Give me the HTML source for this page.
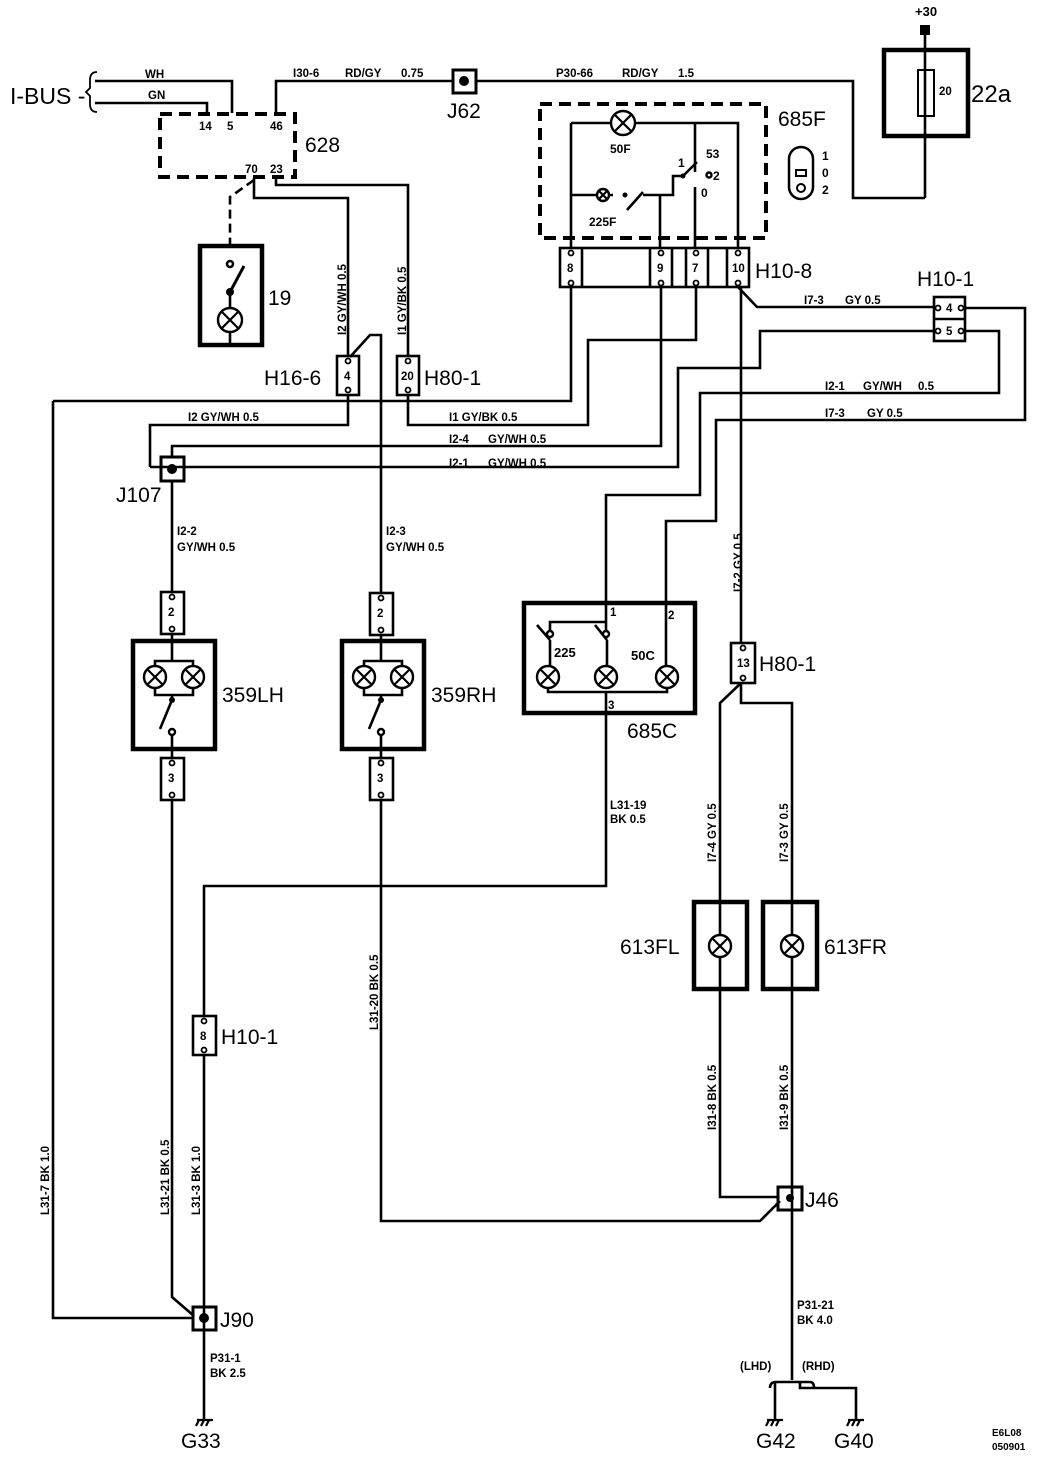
<!DOCTYPE html>
<html><head><meta charset="utf-8"><style>
html,body{margin:0;padding:0;background:#fff}
svg{display:block}
text{font-family:"Liberation Sans",sans-serif;fill:#000}
.s{font-size:11.5px;font-weight:bold}
.b{font-size:21px}
</style></head><body>
<svg width="1056" height="1460" viewBox="0 0 1056 1460" xmlns="http://www.w3.org/2000/svg">
<g fill="none" stroke="#000" stroke-width="2.6">
<!-- I-BUS -->
<path d="M95,81 H232 V113 M95,103 H207 V113"/>
<path d="M97,72 Q90,72 90,80 V88 L86,92 L90,96 V104 Q90,112 97,112" stroke-width="1.8"/>
<path d="M276,113 V81 H453 M476,81 H853 V198 H925"/>
<rect x="453" y="70" width="23" height="23" stroke-width="3"/>
<!-- 628 -->
<rect x="160" y="114" width="135" height="63" stroke-width="4" stroke-dasharray="12,7"/>
<path d="M254,178 V198 H348 V357 M276,178 V185 H408 V357"/>
<path d="M254,180 L230,197 V246" stroke-dasharray="9,5"/>
<!-- 19 -->
<rect x="200" y="246" width="62" height="99" stroke-width="4.5"/>
<circle cx="230" cy="264" r="3"/>
<path d="M230,292 L244,266" stroke-width="3"/>
<path d="M230,292 V308 M230,332 V345"/>
<!-- H16-6 / H80-1 -->
<path d="M350,357 L370,335 H381 V592"/>
<rect x="337" y="356" width="22" height="39"/>
<rect x="397" y="356" width="22" height="39"/>
<path d="M348,395 V425 H150 V467 M408,395 V425 H588 V340 H696 V287"/>
<path d="M53,401 H571 V287 M53,401 V1318 H193"/>
<path d="M172,457 V446 H661 V287"/>
<path d="M150,467 H678 V368 H760 V331 H934"/>
<!-- J107 -->
<rect x="161" y="457" width="23" height="24" stroke-width="3"/>
<path d="M172,481 V592"/>
<!-- 685F -->
<rect x="540" y="104" width="226" height="134" stroke-width="4" stroke-dasharray="12,7"/>
<path d="M571,123 H611 M635,123 H738 V248 M571,123 V248 M695,123 V172"/>
<path d="M571,195 H597 M609,195 H613 M627,210 L643,192 M643,195 H673 V176 H683 L697,162 M660,195 V248 M695,187 V248"/>
<!-- knob -->
<rect x="789" y="147" width="24" height="52" rx="12" stroke-width="2.5"/>
<rect x="796" y="170" width="10" height="6" stroke-width="2"/>
<circle cx="801" cy="188" r="4" stroke-width="2"/>
<!-- H10-8 -->
<rect x="560" y="248" width="189" height="39" stroke-width="2.6"/>
<path d="M582,248 V287 M650,248 V287 M672,248 V287 M686,248 V287 M708,248 V287 M727,248 V287"/>
<path d="M738,287 L757,307 H934"/>
<path d="M741,287 V643"/>
<!-- 22a -->
<rect x="884" y="50" width="84" height="86" stroke-width="4.5"/>
<rect x="918" y="70" width="16" height="46" stroke-width="2"/>
<path d="M925,35 V198"/>
<!-- H10-1 top -->
<rect x="934" y="297" width="31" height="44" stroke-width="2.6"/>
<path d="M934,319 H965"/>
<path d="M965,308 H1025 V420 H716 V521 H666 V602"/>
<path d="M965,331 H999 V393 H700 V495 H606 V602"/>
<!-- 685C -->
<rect x="524" y="603" width="171" height="110" stroke-width="4.5"/>
<path d="M606,602 V622 H550 V632 M606,622 V632 M666,602 V666"/>
<path d="M537,625 L550,640 M595,625 L607,640 M550,640 V666 M607,640 V666"/>
<path d="M548,688 V692 H667 V688 M606,692 V713 M606,713 V886 H204 V1016"/>
<!-- 359LH -->
<rect x="161" y="592" width="23" height="42"/>
<rect x="133" y="641" width="82" height="108" stroke-width="4.5"/>
<path d="M172,634 V661 M155,666 V661 H193 V666 M155,688 V695 H193 V688 M172,695 V700 M172,700 L160,729 M172,736 V758"/>
<rect x="161" y="758" width="23" height="42"/>
<path d="M172,800 V1297 L194,1316"/>
<!-- 359RH -->
<rect x="370" y="593" width="23" height="42"/>
<rect x="342" y="641" width="82" height="108" stroke-width="4.5"/>
<path d="M381,635 V661 M364,666 V661 H402 V666 M364,688 V695 H402 V688 M381,695 V700 M381,700 L369,729 M381,736 V758"/>
<rect x="370" y="758" width="23" height="42"/>
<path d="M381,800 V1221 H760 L780,1201"/>
<!-- H10-1 lower -->
<rect x="193" y="1016" width="23" height="39" stroke-width="2.6"/>
<path d="M204,1055 V1420"/>
<rect x="193" y="1307" width="23" height="23" stroke-width="3"/>
<!-- H80-1 13 -->
<rect x="731" y="643" width="24" height="40" stroke-width="2.6"/>
<path d="M741,683 L720,703 V1197 H778 M741,683 V703 H792 V1380"/>
<rect x="694" y="902" width="53" height="87" stroke-width="4.5"/>
<rect x="763" y="902" width="54" height="87" stroke-width="4.5"/>
<rect x="778" y="1187" width="24" height="23" stroke-width="3"/>
<path d="M770,1388 Q770,1382 776,1382 H810 Q814,1382 814,1388 M775,1382 V1420 M800,1382 V1388 H856 V1420"/>
</g>
<!-- lamps -->
<g fill="#fff" stroke="#000" stroke-width="2.4">
<circle cx="623" cy="123" r="12"/><circle cx="603" cy="195" r="6"/>
<circle cx="230" cy="320" r="12"/>
<circle cx="155" cy="677" r="11"/><circle cx="193" cy="677" r="11"/>
<circle cx="364" cy="677" r="11"/><circle cx="402" cy="677" r="11"/>
<circle cx="548" cy="677" r="11"/><circle cx="606" cy="677" r="11"/><circle cx="667" cy="677" r="11"/>
<circle cx="720" cy="946" r="11"/><circle cx="792" cy="946" r="11"/>
<circle cx="550" cy="634" r="3"/><circle cx="606" cy="634" r="3"/>
<circle cx="172" cy="732" r="3"/><circle cx="381" cy="732" r="3"/>
<circle cx="709" cy="175" r="2.5"/>
</g>
<g stroke="#000" stroke-width="2.2" fill="none">
<path d="M615,115 L631,131 M631,115 L615,131 M599,191 L607,199 M607,191 L599,199 M222,312 L238,328 M238,312 L222,328
M148,670 L162,684 M162,670 L148,684 M186,670 L200,684 M200,670 L186,684 M357,670 L371,684 M371,670 L357,684 M395,670 L409,684 M409,670 L395,684
M541,670 L555,684 M555,670 L541,684 M599,670 L613,684 M613,670 L599,684 M660,670 L674,684 M674,670 L660,684
M713,939 L727,953 M727,939 L713,953 M785,939 L799,953 M799,939 L785,953"/>
<!-- grounds -->
<path d="M197,1420 H213 M199,1420 L196,1426 M204,1420 L201,1426 M209,1420 L206,1426
M767,1420 H783 M769,1420 L766,1426 M774,1420 L771,1426 M779,1420 L776,1426
M848,1420 H864 M850,1420 L847,1426 M855,1420 L852,1426 M860,1420 L857,1426"/>
</g>
<!-- dots -->
<g fill="#000">
<circle cx="464" cy="81" r="5"/><rect x="920" y="25" width="10" height="10"/>
<circle cx="172" cy="469" r="5"/><circle cx="204" cy="1318" r="5"/><circle cx="790" cy="1198" r="4"/>
<circle cx="230" cy="292" r="4"/><circle cx="172" cy="700" r="3"/><circle cx="381" cy="700" r="3"/>
<circle cx="625" cy="195" r="2.5"/><circle cx="683" cy="176" r="2.5"/>
</g>
<!-- connector pins -->
<g fill="#fff" stroke="#000" stroke-width="1.8">
<circle cx="348" cy="361" r="2.5"/><circle cx="348" cy="390" r="2.5"/>
<circle cx="408" cy="361" r="2.5"/><circle cx="408" cy="390" r="2.5"/>
<circle cx="571" cy="253" r="2.5"/><circle cx="571" cy="283" r="2.5"/>
<circle cx="661" cy="253" r="2.5"/><circle cx="661" cy="283" r="2.5"/>
<circle cx="696" cy="253" r="2.5"/><circle cx="696" cy="283" r="2.5"/>
<circle cx="738" cy="253" r="2.5"/><circle cx="738" cy="283" r="2.5"/>
<circle cx="938" cy="308" r="2.5"/><circle cx="961" cy="308" r="2.5"/>
<circle cx="938" cy="331" r="2.5"/><circle cx="961" cy="331" r="2.5"/>
<circle cx="172" cy="597" r="2.5"/><circle cx="172" cy="629" r="2.5"/>
<circle cx="172" cy="763" r="2.5"/><circle cx="172" cy="795" r="2.5"/>
<circle cx="381" cy="598" r="2.5"/><circle cx="381" cy="630" r="2.5"/>
<circle cx="381" cy="763" r="2.5"/><circle cx="381" cy="795" r="2.5"/>
<circle cx="204" cy="1021" r="2.5"/><circle cx="204" cy="1050" r="2.5"/>
<circle cx="743" cy="648" r="2.5"/><circle cx="743" cy="678" r="2.5"/>
</g>
<!-- big labels -->
<g class="b">
<text x="10" y="104" font-size="23">I-BUS -</text>
<text x="447" y="118">J62</text>
<text x="305" y="152">628</text>
<text x="268" y="305">19</text>
<text x="264" y="385">H16-6</text>
<text x="424" y="385">H80-1</text>
<text x="778" y="126">685F</text>
<text x="755" y="278">H10-8</text>
<text x="917" y="286">H10-1</text>
<text x="971" y="102" font-size="24">22a</text>
<text x="116" y="502">J107</text>
<text x="222" y="702">359LH</text>
<text x="431" y="702">359RH</text>
<text x="627" y="738">685C</text>
<text x="759" y="671">H80-1</text>
<text x="221" y="1044">H10-1</text>
<text x="220" y="1327">J90</text>
<text x="805" y="1207">J46</text>
<text x="620" y="954">613FL</text>
<text x="824" y="954">613FR</text>
<text x="181" y="1448">G33</text>
<text x="756" y="1448">G42</text>
<text x="834" y="1448">G40</text>
</g>
<!-- small labels -->
<g class="s">
<text x="145" y="78">WH</text><text x="148" y="99">GN</text>
<text x="199" y="130">14</text><text x="227" y="130">5</text><text x="270" y="130">46</text>
<text x="245" y="173">70</text><text x="270" y="173">23</text>
<text x="293" y="77">I30-6</text><text x="345" y="77">RD/GY</text><text x="401" y="77">0.75</text>
<text x="556" y="77">P30-66</text><text x="622" y="77">RD/GY</text><text x="678" y="77">1.5</text>
<text x="915" y="16" font-size="13">+30</text>
<text x="939" y="95">20</text>
<text x="610" y="153" font-size="12">50F</text>
<text x="589" y="226" font-size="12">225F</text>
<text x="678" y="167" font-size="12">1</text>
<text x="706" y="158" font-size="12">53</text>
<text x="713" y="180" font-size="12">2</text>
<text x="701" y="197" font-size="12">0</text>
<text x="822" y="160" font-size="12">1</text><text x="822" y="177" font-size="12">0</text><text x="822" y="194" font-size="12">2</text>
<text x="567" y="272">8</text><text x="657" y="272">9</text><text x="692" y="272">7</text><text x="732" y="272">10</text>
<text x="946" y="312">4</text><text x="946" y="335">5</text>
<text x="344" y="380">4</text><text x="401" y="380">20</text>
<text x="804" y="304">I7-3</text><text x="845" y="304">GY 0.5</text>
<text x="825" y="390">I2-1</text><text x="863" y="390">GY/WH</text><text x="918" y="390">0.5</text>
<text x="825" y="417">I7-3</text><text x="867" y="417">GY 0.5</text>
<text x="188" y="421">I2  GY/WH  0.5</text>
<text x="449" y="421">I1 GY/BK  0.5</text>
<text x="449" y="443">I2-4</text><text x="488" y="443">GY/WH 0.5</text>
<text x="449" y="467">I2-1</text><text x="488" y="467">GY/WH 0.5</text>
<text x="177" y="535">I2-2</text><text x="177" y="551">GY/WH  0.5</text>
<text x="386" y="535">I2-3</text><text x="386" y="551">GY/WH  0.5</text>
<text x="168" y="616">2</text><text x="168" y="782">3</text>
<text x="377" y="617">2</text><text x="377" y="782">3</text>
<text x="554" y="657" font-size="13">225</text><text x="631" y="660" font-size="13">50C</text>
<text x="610" y="616">1</text><text x="668" y="619">2</text><text x="608" y="709">3</text>
<text x="737" y="667">13</text>
<text x="200" y="1040">8</text>
<text x="610" y="809">L31-19</text><text x="610" y="823">BK 0.5</text>
<text x="210" y="1362">P31-1</text><text x="210" y="1377">BK 2.5</text>
<text x="797" y="1309">P31-21</text><text x="797" y="1324">BK 4.0</text>
<text x="740" y="1370">(LHD)</text><text x="802" y="1370">(RHD)</text>
<text x="992" y="1436" font-size="10">E6L08</text><text x="992" y="1450" font-size="10">050901</text>
<text transform="translate(346,335) rotate(-90)">I2  GY/WH  0.5</text>
<text transform="translate(406,335) rotate(-90)">I1  GY/BK  0.5</text>
<text transform="translate(742,592) rotate(-90)">I7-2   GY 0.5</text>
<text transform="translate(716,862) rotate(-90)">I7-4   GY 0.5</text>
<text transform="translate(788,862) rotate(-90)">I7-3   GY 0.5</text>
<text transform="translate(716,1130) rotate(-90)">I31-8  BK  0.5</text>
<text transform="translate(788,1130) rotate(-90)">I31-9  BK  0.5</text>
<text transform="translate(378,1030) rotate(-90)">L31-20  BK  0.5</text>
<text transform="translate(49,1215) rotate(-90)">L31-7  BK  1.0</text>
<text transform="translate(169,1215) rotate(-90)">L31-21  BK  0.5</text>
<text transform="translate(200,1215) rotate(-90)">L31-3  BK  1.0</text>
</g>
</svg>
</body></html>
